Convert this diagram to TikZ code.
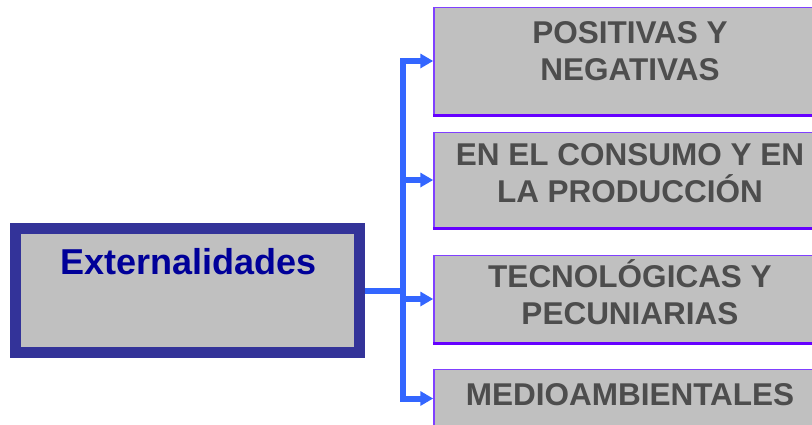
\documentclass[tikz,border=0pt]{standalone}
\usepackage{fontspec}
\setmainfont{Liberation Sans}
\usetikzlibrary{arrows.meta,calc}
\definecolor{boxgray}{HTML}{C0C0C0}
\definecolor{mainborder}{HTML}{333399}
\definecolor{maintextc}{HTML}{000099}
\definecolor{connc}{HTML}{3366FF}
\definecolor{boxedge}{HTML}{8040FF}
\definecolor{boxedgedark}{HTML}{6600FF}
\definecolor{boxtext}{HTML}{4D4D4D}
\begin{document}
\begin{tikzpicture}[x=1pt,y=-1pt,
  mainbox/.style={draw=mainborder,line width=11pt,fill=boxgray,minimum width=344pt,minimum height=124.5pt,inner sep=0pt},
  subbox/.style={draw=boxedge,line width=1.5pt,fill=boxgray,minimum width=392pt,inner sep=0pt},
  maintxt/.style={font=\fontsize{36}{43}\selectfont\bfseries,text=maintextc,inner sep=0pt,anchor=base},
  subtxt/.style={font=\fontsize{31.5}{37}\selectfont\bfseries,text=boxtext,inner sep=0pt,align=center,anchor=north},
  link/.style={draw=connc,line width=6pt},
  arrowlink/.style={link,-{Triangle[length=13pt,width=14pt]}},
  bottomedge/.style={draw=boxedgedark,line width=3.5pt}
  ]
\useasboundingbox (0,0) rectangle (812,424);
\clip (0,0) rectangle (812,424);
% boxes (positions)
\path (187.5,290.5) coordinate (mc);
\node[subbox,minimum height=107pt] (b1) at (630,61) {};
\node[subbox,minimum height=95pt] (b2) at (630,180) {};
\node[subbox,minimum height=87pt] (b3) at (630,299) {};
\node[subbox,minimum height=58pt] (b4) at (630,398.5) {};
\draw[bottomedge] (b1.south west) -- (b1.south east);
\draw[bottomedge] (b2.south west) -- (b2.south east);
\draw[bottomedge] (b3.south west) -- (b3.south east);
\draw[bottomedge] (b4.south west) -- (b4.south east);
% connectors
\node[mainbox,draw=none,fill=none] (main) at (mc) {};
\coordinate (j) at ($(main.east)+(37.5,0)$);
\draw[link] (main.east) -- (j);
\draw[arrowlink] (j) |- (b1.west);
\draw[arrowlink] (j) |- (b2.west);
\draw[arrowlink] (j) |- (b3.west);
\draw[arrowlink] (j) |- (b4.west);
% main box drawn over connector start
\node[mainbox] (mainbox) at (mc) {};
\node[maintxt] (mt) at (188.5,274) {Externalidades};
% texts
\node[subtxt] (t1) at (630,21) {POSITIVAS Y\\NEGATIVAS};
\node[subtxt] (t2) at (630,143) {EN EL CONSUMO Y EN\\LA PRODUCCI\smash{Ó}N};
\node[subtxt] (t3) at (630,265) {TECNOL\smash{Ó}GICAS Y\\PECUNIARIAS};
\node[subtxt] (t4) at (630,383) {MEDIOAMBIENTALES};
\end{tikzpicture}
\end{document}
